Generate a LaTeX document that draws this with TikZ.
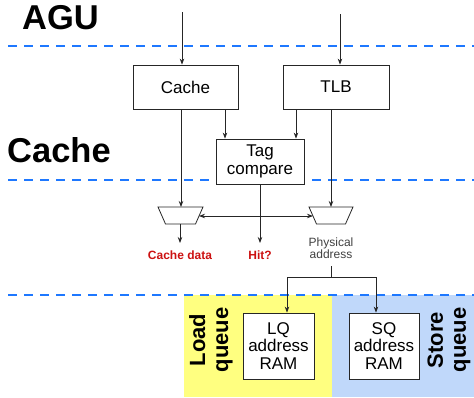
\documentclass[tikz,border=0pt]{standalone}
\usepackage{fontspec}
\setmainfont{Liberation Sans}
\usetikzlibrary{arrows.meta}
\definecolor{dashblue}{RGB}{30,120,255}
\definecolor{lqyellow}{RGB}{255,255,128}
\definecolor{sqblue}{RGB}{192,216,250}
\definecolor{sigred}{RGB}{204,17,17}
\definecolor{txtgray}{RGB}{64,64,64}
\tikzset{
  stage/.style={draw=dashblue, line width=2.6pt, dash pattern=on 9pt off 7pt},
  unit/.style={draw=black!85, fill=white, line width=0.8pt, inner sep=0pt, align=center,
    font=\fontsize{17}{17.5}\selectfont},
  wire/.style={draw=black!85, line width=0.8pt},
  arr/.style={wire, -{Stealth[length=6pt,width=4.5pt]}},
  darr/.style={wire, {Stealth[length=6pt,width=4.5pt]}-{Stealth[length=6pt,width=4.5pt]}},
  stagelbl/.style={font=\fontsize{34.5}{34.5}\selectfont\bfseries, anchor=base west, inner sep=0pt},
  qlbl/.style={font=\fontsize{22}{23}\selectfont\bfseries, align=center, rotate=90, inner sep=0pt},
  sig/.style={font=\fontsize{12}{12.5}\selectfont\bfseries, text=sigred, anchor=base, inner sep=0pt},
  pa/.style={font=\fontsize{12}{12.5}\selectfont, text=txtgray, align=center, inner sep=0pt},
  mux/.style={draw=black!85, fill=white, line width=0.8pt}
}
\begin{document}
\begin{tikzpicture}[x=1pt,y=-1pt]
\useasboundingbox (0,0) rectangle (474,397);
% queue backgrounds
\fill[lqyellow] (184,295) rectangle (332,397);
\fill[sqblue] (332,295) rectangle (474,397);
% stage separators
\draw[stage] (8,46) -- (474,46);
\draw[stage] (8,180) -- (474,180);
\draw[stage] (8,295) -- (474,295);
% stage labels
\node[stagelbl] (agu) at (22,29.5) {AGU};
\node[stagelbl] (cachelbl) at (7,162) {Cache};
% units
\node[unit, minimum width=105pt, minimum height=44pt] (cache) at (185.5,87) {Cache};
\node[unit, minimum width=106pt, minimum height=44pt] (tlb) at (336,87) {TLB};
\node[unit, minimum width=88pt, minimum height=45pt] (tag) at (260,161.5) {Tag\\compare};
\node[unit, minimum width=71pt, minimum height=66pt] (lq) at (278.5,346) {LQ\\address\\RAM};
\node[unit, minimum width=70pt, minimum height=66pt] (sq) at (384,346) {SQ\\address\\RAM};
% muxes
\draw[mux] (158,207) -- (203,207) -- (195.5,224) -- (165.5,224) -- cycle;
\draw[mux] (309,207) -- (353,207) -- (345.5,224) -- (316.5,224) -- cycle;
\coordinate (muxLtop) at (181,207);
\coordinate (muxLbot) at (180,224);
\coordinate (muxLr) at (199,216);
\coordinate (muxRtop) at (331,207);
\coordinate (muxRl) at (313,216);
% inputs
\coordinate (inC) at (182,12);
\coordinate (inT) at (340,14);
\draw[arr] (inC) -- (inC |- cache.north);
\draw[arr] (inT) -- (inT |- tlb.north);
% cache/tlb outputs
\draw[arr] (cache.south -| muxLtop) -- (muxLtop);
\draw[arr] (cache.south -| 225,0) -- (tag.north -| 225,0);
\draw[arr] (tlb.south -| 296,0) -- (tag.north -| 296,0);
\draw[arr] (tlb.south -| muxRtop) -- (muxRtop);
% hit select
\draw[darr] (muxLr) -- (muxRl);
% output labels
\node[sig] (cdata) at (180,259) {Cache data};
\node[sig] (hit) at (260,259) {Hit?};
\node[pa, anchor=base] (phys) at (331,258.5) {Physical\\address};
\draw[arr] (tag.south) -- (260,243);
\draw[arr] (muxLbot) -- (180,243);
% physical address to queues
\coordinate (split) at (331,277);
\draw[wire] (331,266) -- (split);
\draw[arr] (split) -- (287,277) -- (lq.north -| 287,0);
\draw[arr] (split) -- (376,277) -- (sq.north -| 376,0);
% queue labels
\node[qlbl] (lql) at (211,340) {Load\\queue};
\node[qlbl] (sql) at (449,340) {Store\\queue};
\end{tikzpicture}
\end{document}
